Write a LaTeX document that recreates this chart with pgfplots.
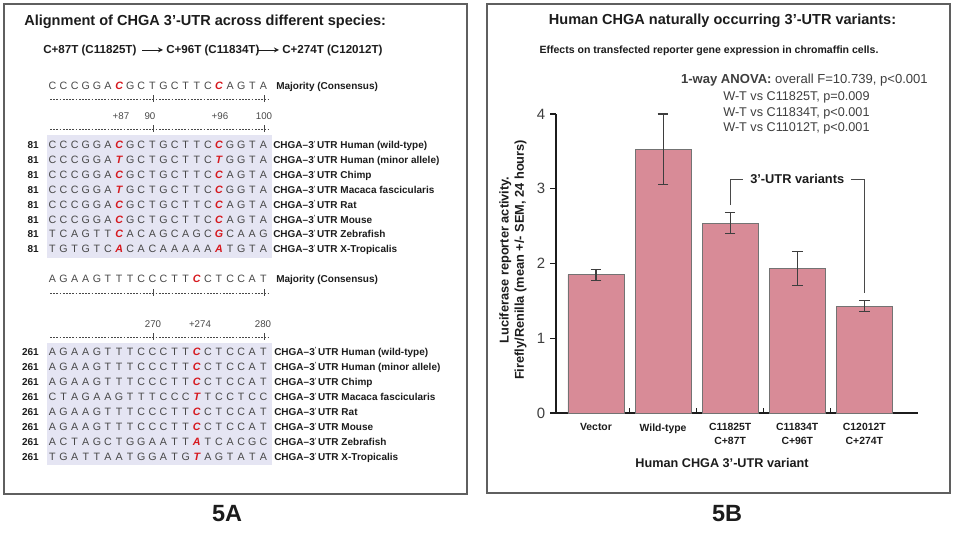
\documentclass[border=0pt]{standalone}
\usepackage{pgfplots}
\pgfplotsset{compat=1.18}
\usepackage{pgfplotstable}
\usepackage{fontspec}
\setmainfont{Liberation Sans}
\definecolor{barpink}{RGB}{216,139,151}
\definecolor{seqgray}{RGB}{72,72,72}
\definecolor{seqshade}{RGB}{229,229,243}
\definecolor{redmut}{RGB}{214,24,30}
\definecolor{txt}{RGB}{28,28,28}
\definecolor{boxc}{RGB}{95,95,95}
\newcommand{\fs}[1]{\fontsize{#1}{#1}\selectfont}
\newcommand{\rd}[1]{\textcolor{redmut}{\bfseries\itshape #1}}
\newcommand{\seqrow}[2]{\foreach \c [count=\i from 0] in {#2}{\node[seqL] at ({52.5+11.1*\i},#1) {\c};}}
\newcommand{\ruler}[1]{%
  \draw[seqgray, line width=0.5pt, dash pattern=on 1.3pt off 1.1pt] (50,#1) -- (269,#1);
  \draw[seqgray, line width=0.6pt] (153,{#1-3.5}) -- (153,{#1+3.5}) (264,{#1-3.5}) -- (264,{#1+3.5});}
\newcommand{\spec}{CHGA–3\raisebox{.6ex}{\fs{4.5}'}\,UTR}
\pgfplotstableread{
x y e
0 1.85 0.075
1 3.53 0.47
2 2.54 0.14
3 1.93 0.23
4 1.43 0.07
}\luc
\begin{document}
\begin{tikzpicture}[x=0.75pt,y=0.75pt,
  seqL/.style={inner sep=0pt, anchor=mid, font=\fs{8}, text=seqgray},
  lab/.style={inner sep=0pt, font=\bfseries\fs{7.5}, text=txt}]
\useasboundingbox (0,0) rectangle (954,536);
\begin{scope}[yshift=402pt, yscale=-1]
\draw[boxc, line width=1.1pt] (4,4) rectangle (467,494);
\draw[boxc, line width=1.1pt] (487,4) rectangle (950,493);
% ---------------- Panel A ----------------
\node[anchor=mid west, inner sep=0pt, font=\bfseries\fs{10.9}, text=txt] at (24,22) {Alignment of CHGA 3'-UTR across different species:};
\node[anchor=mid west, inner sep=0pt, font=\bfseries\fs{8.7}, text=txt] at (43,50) {C+87T (C11825T)};
\draw[txt, line width=0.7pt, -stealth] (142,50) -- (163,50);
\node[anchor=mid west, inner sep=0pt, font=\bfseries\fs{8.7}, text=txt] at (166,50) {C+96T (C11834T)};
\draw[txt, line width=0.7pt, -stealth] (257,50) -- (279,50);
\node[anchor=mid west, inner sep=0pt, font=\bfseries\fs{8.7}, text=txt] at (282,50) {C+274T (C12012T)};
% block 1
\seqrow{86}{C,C,C,G,G,A,\rd{C},G,C,T,G,C,T,T,C,\rd{C},A,G,T,A}
\node[lab, anchor=mid west] at (276,86) {Majority (Consensus)};
\ruler{99}
\node[seqL, font=\fs{7.3}] at (121,116) {+87};
\node[seqL, font=\fs{7.3}] at (150,116) {90};
\node[seqL, font=\fs{7.3}] at (220,116) {+96};
\node[seqL, font=\fs{7.3}] at (264,116) {100};
\ruler{129}
\fill[seqshade] (47,135) rectangle (272,258);
\seqrow{145}{C,C,C,G,G,A,\rd{C},G,C,T,G,C,T,T,C,\rd{C},G,G,T,A}
\seqrow{159.9}{C,C,C,G,G,A,\rd{T},G,C,T,G,C,T,T,C,\rd{T},G,G,T,A}
\seqrow{174.8}{C,C,C,G,G,A,\rd{C},G,C,T,G,C,T,T,C,\rd{C},A,G,T,A}
\seqrow{189.7}{C,C,C,G,G,A,\rd{T},G,C,T,G,C,T,T,C,\rd{C},G,G,T,A}
\seqrow{204.6}{C,C,C,G,G,A,\rd{C},G,C,T,G,C,T,T,C,\rd{C},A,G,T,A}
\seqrow{219.5}{C,C,C,G,G,A,\rd{C},G,C,T,G,C,T,T,C,\rd{C},A,G,T,A}
\seqrow{234.4}{T,C,A,G,T,T,\rd{C},A,C,A,G,C,A,G,C,\rd{G},C,A,A,G}
\seqrow{249.3}{T,G,T,G,T,C,\rd{A},C,A,C,A,A,A,A,A,\rd{A},T,G,T,A}
\foreach \n [count=\k from 0] in {Human (wild-type),Human (minor allele),Chimp,Macaca fascicularis,Rat,Mouse,Zebrafish,X-Tropicalis}{
  \node[lab, anchor=mid west] at (273,{145+14.9*\k}) {\spec{} \n};
  \node[lab, anchor=mid east] at (39,{145+14.9*\k}) {81};
}
% block 2
\seqrow{279}{A,G,A,A,G,T,T,T,C,C,C,T,T,\rd{C},C,T,C,C,A,T}
\node[lab, anchor=mid west] at (276,279) {Majority (Consensus)};
\ruler{293}
\node[seqL, font=\fs{7.3}] at (153,324) {270};
\node[seqL, font=\fs{7.3}] at (200,324) {+274};
\node[seqL, font=\fs{7.3}] at (263,324) {280};
\ruler{337}
\fill[seqshade] (47,343) rectangle (272,465);
\seqrow{351.5}{A,G,A,A,G,T,T,T,C,C,C,T,T,\rd{C},C,T,C,C,A,T}
\seqrow{366.6}{A,G,A,A,G,T,T,T,C,C,C,T,T,\rd{C},C,T,C,C,A,T}
\seqrow{381.7}{A,G,A,A,G,T,T,T,C,C,C,T,T,\rd{C},C,T,C,C,A,T}
\seqrow{396.8}{C,T,A,G,A,A,G,T,T,T,C,C,C,\rd{T},T,C,C,T,C,C}
\seqrow{411.9}{A,G,A,A,G,T,T,T,C,C,C,T,T,\rd{C},C,T,C,C,A,T}
\seqrow{427.0}{A,G,A,A,G,T,T,T,C,C,C,T,T,\rd{C},C,T,C,C,A,T}
\seqrow{442.1}{A,C,T,A,G,C,T,G,G,A,A,T,T,\rd{A},T,C,A,C,G,C}
\seqrow{457.2}{T,G,A,T,T,A,A,T,G,G,A,T,G,\rd{T},A,G,T,A,T,A}
\foreach \n [count=\k from 0] in {Human (wild-type),Human (minor allele),Chimp,Macaca fascicularis,Rat,Mouse,Zebrafish,X-Tropicalis}{
  \node[lab, anchor=mid west] at (274,{351.5+15.1*\k}) {\spec{} \n};
  \node[lab, anchor=mid east] at (39,{351.5+15.1*\k}) {261};
}
\node[anchor=mid, inner sep=0pt, font=\bfseries\fs{17.6}, text=txt] at (227,518) {5A};
% ---------------- Panel B texts ----------------
\node[anchor=mid, inner sep=0pt, font=\bfseries\fs{10.9}, text=txt] at (722.5,21) {Human CHGA naturally occurring 3'-UTR variants:};
\node[anchor=mid, inner sep=0pt, font=\bfseries\fs{7.9}, text=txt] at (709,50) {Effects on transfected reporter gene expression in chromaffin cells.};
\node[anchor=mid east, inner sep=0pt, font=\fs{9.8}, text=txt!85] at (928,80) {\textbf{1-way ANOVA:} overall F=10.739, p<0.001};
\node[anchor=mid west, inner sep=0pt, font=\fs{9.5}, text=txt!85] at (723,97) {W-T vs C11825T, p=0.009};
\node[anchor=mid west, inner sep=0pt, font=\fs{9.5}, text=txt!85] at (723,112.5) {W-T vs C11834T, p<0.001};
\node[anchor=mid west, inner sep=0pt, font=\fs{9.5}, text=txt!85] at (723,128) {W-T vs C11012T, p<0.001};
\node[anchor=mid, inner sep=0pt, font=\bfseries\fs{17.6}, text=txt] at (727,518) {5B};
\end{scope}
\begin{axis}[
  at={(417pt,92.25pt)}, anchor=south west,
  scale only axis, width=271.5pt, height=224.25pt,
  xmin=-0.596, xmax=4.8, ymin=0, ymax=4,
  axis x line=bottom, axis y line=left,
  axis line style={-, line width=1.1pt, txt},
  xtick={0,1,2,3,4},
  xticklabels={Vector,Wild-type,{C11825T\\C+87T},{C11834T\\C+96T},{C12012T\\C+274T}},
  x tick label style={align=center, font=\bfseries\fontsize{7.8}{9.8}\selectfont, text=txt},
  xtick style={draw=none},
  ytick={0,1,2,3,4},
  tick align=outside, major tick length=4.5pt,
  ytick style={line width=0.9pt, txt},
  y tick label style={font=\fs{11.2}, text=txt!85},
  /pgf/number format/assume math mode=true,
  xlabel={Human CHGA 3'-UTR variant},
  xlabel style={at={(axis description cs:0.4586,-0.167)}, anchor=center, font=\bfseries\fs{9.5}, text=txt},
  ylabel={Luciferase reporter activity.\\Firefly/Renilla (mean +/- SEM, 24 hours)},
  ylabel style={at={(axis description cs:-0.119,0.512)}, anchor=center, align=center, font=\bfseries\fontsize{9.6}{11.3}\selectfont, text=txt},
  clip=false,
]
\addplot[ybar, bar width=0.835, fill=barpink, draw=black!55, line width=0.6pt,
  error bars/.cd, y dir=both, y explicit, error mark=-,
  error bar style={line width=0.8pt, txt!85},
  error mark options={rotate=90, line width=0.8pt, txt!85, mark size=4pt}]
  table[x=x, y=y, y error=e] {\luc};
\pgfplotsinvokeforeach{0.5,1.5,2.5,3.5}{\draw[txt, line width=0.8pt] (axis cs:#1,0) -- ++(0pt,4pt);}
\draw[txt!80, line width=0.6pt] (axis cs:2,2.78) |- (axis cs:2.19,3.13);
\draw[txt!80, line width=0.6pt] (axis cs:3.80,3.13) -| (axis cs:4,1.6);
\node[inner sep=0pt, font=\bfseries\fs{9.6}, text=txt] at (axis cs:3,3.13) {3'-UTR variants};
\end{axis}
\end{tikzpicture}
\end{document}
